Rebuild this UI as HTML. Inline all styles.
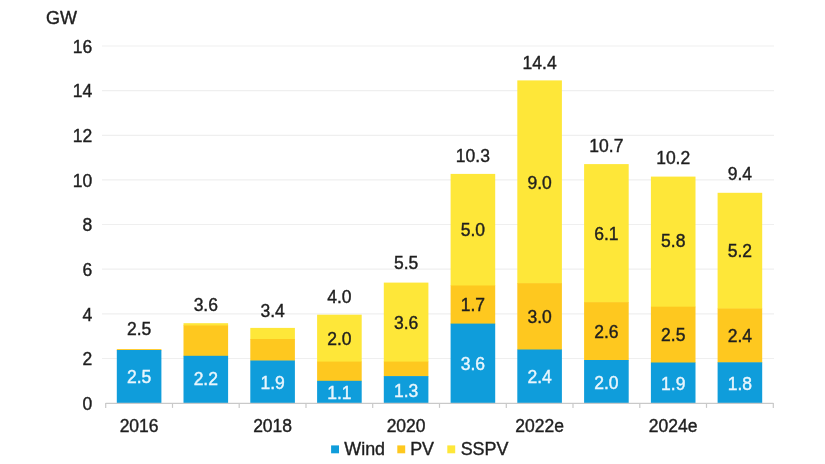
<!DOCTYPE html>
<html><head><meta charset="utf-8"><title>Chart</title>
<style>
html,body{margin:0;padding:0;background:#fff;}
body{width:825px;height:464px;overflow:hidden;}
svg{display:block;filter:blur(0.45px);}
text{font-family:"Liberation Sans",Arial,sans-serif;font-size:17.5px;fill:#1f1f1f;stroke:#1f1f1f;stroke-width:0.4px;}
.w{fill:#e9f6fd;stroke:#e9f6fd;}
.m{text-anchor:middle;}
.e{text-anchor:end;}
</style></head><body>
<svg width="825" height="464" viewBox="0 0 825 464">
<rect width="825" height="464" fill="#ffffff"/>

<line x1="102" x2="774" y1="358.5" y2="358.5" stroke="#efefef" stroke-width="1.2"/>
<line x1="102" x2="774" y1="313.8" y2="313.8" stroke="#efefef" stroke-width="1.2"/>
<line x1="102" x2="774" y1="269.2" y2="269.2" stroke="#efefef" stroke-width="1.2"/>
<line x1="102" x2="774" y1="224.5" y2="224.5" stroke="#efefef" stroke-width="1.2"/>
<line x1="102" x2="774" y1="179.9" y2="179.9" stroke="#efefef" stroke-width="1.2"/>
<line x1="102" x2="774" y1="135.3" y2="135.3" stroke="#efefef" stroke-width="1.2"/>
<line x1="102" x2="774" y1="90.6" y2="90.6" stroke="#efefef" stroke-width="1.2"/>
<line x1="102" x2="774" y1="46.0" y2="46.0" stroke="#efefef" stroke-width="1.2"/>
<text class="e" x="92.3" y="409.8">0</text>
<text class="e" x="92.3" y="365.2">2</text>
<text class="e" x="92.3" y="320.5">4</text>
<text class="e" x="92.3" y="275.9">6</text>
<text class="e" x="92.3" y="231.2">8</text>
<text class="e" x="92.3" y="186.6">10</text>
<text class="e" x="92.3" y="142.0">12</text>
<text class="e" x="92.3" y="97.3">14</text>
<text class="e" x="92.3" y="52.7">16</text>
<text x="46" y="24.1" style="font-size:18px">GW</text>
<rect x="116.8" y="349.1" width="44.6" height="1.4" fill="#fec81f"/>
<rect x="116.8" y="350.0" width="44.6" height="53.1" fill="#0f9ddb"/>
<rect x="183.5" y="323.2" width="44.6" height="2.7" fill="#fee739"/>
<rect x="183.5" y="325.4" width="44.6" height="30.9" fill="#fec81f"/>
<rect x="183.5" y="355.8" width="44.6" height="47.3" fill="#0f9ddb"/>
<rect x="250.3" y="327.9" width="44.6" height="11.7" fill="#fee739"/>
<rect x="250.3" y="339.0" width="44.6" height="21.9" fill="#fec81f"/>
<rect x="250.3" y="360.5" width="44.6" height="42.6" fill="#0f9ddb"/>
<rect x="317.1" y="314.7" width="44.6" height="47.4" fill="#fee739"/>
<rect x="317.1" y="361.6" width="44.6" height="19.7" fill="#fec81f"/>
<rect x="317.1" y="380.8" width="44.6" height="22.3" fill="#0f9ddb"/>
<rect x="383.8" y="282.6" width="44.6" height="79.5" fill="#fee739"/>
<rect x="383.8" y="361.6" width="44.6" height="15.0" fill="#fec81f"/>
<rect x="383.8" y="376.1" width="44.6" height="27.0" fill="#0f9ddb"/>
<rect x="450.6" y="173.9" width="44.6" height="112.1" fill="#fee739"/>
<rect x="450.6" y="285.5" width="44.6" height="38.7" fill="#fec81f"/>
<rect x="450.6" y="323.6" width="44.6" height="79.5" fill="#0f9ddb"/>
<rect x="517.3" y="80.4" width="44.6" height="203.4" fill="#fee739"/>
<rect x="517.3" y="283.2" width="44.6" height="66.8" fill="#fec81f"/>
<rect x="517.3" y="349.5" width="44.6" height="53.6" fill="#0f9ddb"/>
<rect x="584.1" y="164.1" width="44.6" height="138.7" fill="#fee739"/>
<rect x="584.1" y="302.2" width="44.6" height="58.3" fill="#fec81f"/>
<rect x="584.1" y="360.0" width="44.6" height="43.1" fill="#0f9ddb"/>
<rect x="650.9" y="176.6" width="44.6" height="130.6" fill="#fee739"/>
<rect x="650.9" y="306.7" width="44.6" height="56.3" fill="#fec81f"/>
<rect x="650.9" y="362.5" width="44.6" height="40.6" fill="#0f9ddb"/>
<rect x="717.6" y="192.8" width="44.6" height="116.1" fill="#fee739"/>
<rect x="717.6" y="308.5" width="44.6" height="54.3" fill="#fec81f"/>
<rect x="717.6" y="362.3" width="44.6" height="40.8" fill="#0f9ddb"/>
<line x1="105.7" x2="773.3" y1="403.4" y2="403.4" stroke="#c9c9c9" stroke-width="1.2"/>
<line x1="105.7" x2="105.7" y1="403.1" y2="407.9" stroke="#c9c9c9" stroke-width="1.2"/>
<line x1="172.5" x2="172.5" y1="403.1" y2="407.9" stroke="#c9c9c9" stroke-width="1.2"/>
<line x1="239.2" x2="239.2" y1="403.1" y2="407.9" stroke="#c9c9c9" stroke-width="1.2"/>
<line x1="306.0" x2="306.0" y1="403.1" y2="407.9" stroke="#c9c9c9" stroke-width="1.2"/>
<line x1="372.7" x2="372.7" y1="403.1" y2="407.9" stroke="#c9c9c9" stroke-width="1.2"/>
<line x1="439.5" x2="439.5" y1="403.1" y2="407.9" stroke="#c9c9c9" stroke-width="1.2"/>
<line x1="506.3" x2="506.3" y1="403.1" y2="407.9" stroke="#c9c9c9" stroke-width="1.2"/>
<line x1="573.0" x2="573.0" y1="403.1" y2="407.9" stroke="#c9c9c9" stroke-width="1.2"/>
<line x1="639.8" x2="639.8" y1="403.1" y2="407.9" stroke="#c9c9c9" stroke-width="1.2"/>
<line x1="706.5" x2="706.5" y1="403.1" y2="407.9" stroke="#c9c9c9" stroke-width="1.2"/>
<line x1="773.3" x2="773.3" y1="403.1" y2="407.9" stroke="#c9c9c9" stroke-width="1.2"/>
<text class="m w" x="139.1" y="383.4">2.5</text>
<text class="m" x="139.1" y="334.9">2.5</text>
<text class="m w" x="205.8" y="385.3">2.2</text>
<text class="m" x="205.8" y="311.4">3.6</text>
<text class="m w" x="272.6" y="388.7">1.9</text>
<text class="m" x="272.6" y="317.4">3.4</text>
<text class="m w" x="339.4" y="398.8">1.1</text>
<text class="m" x="339.4" y="344.8">2.0</text>
<text class="m" x="339.4" y="303.2">4.0</text>
<text class="m w" x="406.1" y="396.5">1.3</text>
<text class="m" x="406.1" y="328.8">3.6</text>
<text class="m" x="406.1" y="268.8">5.5</text>
<text class="m w" x="472.9" y="370.3">3.6</text>
<text class="m" x="472.9" y="311.3">1.7</text>
<text class="m" x="472.9" y="236.4">5.0</text>
<text class="m" x="472.9" y="161.5">10.3</text>
<text class="m w" x="539.6" y="383.2">2.4</text>
<text class="m" x="539.6" y="323.1">3.0</text>
<text class="m" x="539.6" y="188.5">9.0</text>
<text class="m" x="539.6" y="69.2">14.4</text>
<text class="m w" x="606.4" y="388.5">2.0</text>
<text class="m" x="606.4" y="337.8">2.6</text>
<text class="m" x="606.4" y="239.8">6.1</text>
<text class="m" x="606.4" y="152.2">10.7</text>
<text class="m w" x="673.2" y="389.7">1.9</text>
<text class="m" x="673.2" y="341.3">2.5</text>
<text class="m" x="673.2" y="247.3">5.8</text>
<text class="m" x="673.2" y="163.6">10.2</text>
<text class="m w" x="739.9" y="389.6">1.8</text>
<text class="m" x="739.9" y="342.1">2.4</text>
<text class="m" x="739.9" y="257.4">5.2</text>
<text class="m" x="739.9" y="180.2">9.4</text>
<text class="m" x="139.1" y="431.9">2016</text>
<text class="m" x="272.6" y="431.9">2018</text>
<text class="m" x="406.1" y="431.9">2020</text>
<text class="m" x="539.6" y="431.9">2022e</text>
<text class="m" x="673.2" y="431.9">2024e</text>
<rect x="331.1" y="445.4" width="7.9" height="7.9" fill="#0f9ddb"/>
<text x="344.3" y="455.3" style="font-size:17.9px">Wind</text>
<rect x="397.3" y="445.4" width="7.9" height="7.9" fill="#fec81f"/>
<text x="410.2" y="455.3" style="font-size:17.9px">PV</text>
<rect x="447.3" y="445.4" width="7.9" height="7.9" fill="#fee739"/>
<text x="460.7" y="455.3" style="font-size:17.9px">SSPV</text>
</svg></body></html>
